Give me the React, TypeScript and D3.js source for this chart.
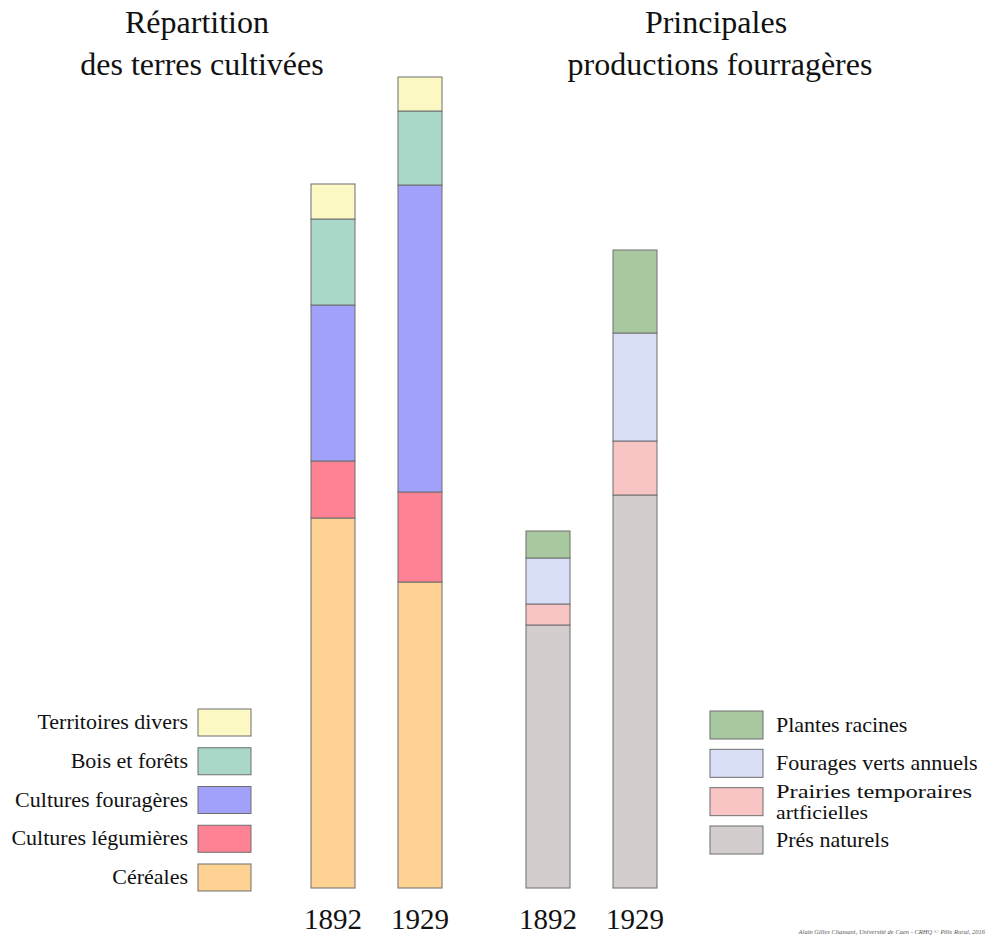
import React from "react";
import * as d3 from "d3";

const years = ["1892", "1929"];

// Left: Répartition des terres cultivées (bottom -> top)
const landCategories = ["Céréales", "Cultures légumières", "Cultures fouragères", "Bois et forêts", "Territoires divers"];
const landColors = ["#fdd292", "#fd8293", "#a1a1fc", "#a9d8c8", "#fcf8c4"];
const land1892 = [370, 57, 156, 86, 35];
const land1929 = [306, 90, 307, 74, 34];

// Right: Principales productions fourragères (bottom -> top)
const fodderCategories = ["Prés naturels", "Prairies temporaires artficielles", "Fourages verts annuels", "Plantes racines"];
const fodderColors = ["#d3cdcd", "#f9c4c4", "#d8dff7", "#a8c9a0"];
const fodder1892 = [263, 21, 46, 27];
const fodder1929 = [393, 54, 108, 83];

const W = 986;
const H = 936;
const FONT = "'Liberation Serif', 'DejaVu Serif', serif";

function stackBars(values: number[][], colors: string[], x: d3.ScaleBand<string>, y: d3.ScaleLinear<number, number>) {
  const rows = years.map((yr, i) => {
    const o: any = { year: yr };
    values[i].forEach((v, k) => (o["k" + k] = v));
    return o;
  });
  const keys = colors.map((_, k) => "k" + k);
  const series = d3.stack().keys(keys)(rows);
  const out: React.ReactNode[] = [];
  series.forEach((s, k) => {
    s.forEach((d, i) => {
      out.push(
        <rect
          key={k + "-" + i}
          x={x(years[i])}
          y={y(d[1])}
          width={x.bandwidth()}
          height={y(d[0]) - y(d[1])}
          fill={colors[k]}
          stroke="#6e6e6e"
          strokeWidth={1}
        />
      );
    });
  });
  return out;
}

export default function App() {
  const y = d3.scaleLinear().domain([0, 1000]).range([888, -112]);
  const bandL = d3.scaleBand<string>().domain(years).range([311, 442]).paddingInner(43 / 87).paddingOuter(0);
  const bandR = d3.scaleBand<string>().domain(years).range([526, 657]).paddingInner(43 / 87).paddingOuter(0);

  const boxW = 53;
  const boxH = 27;
  const leftLegendY = d3.scalePoint<string>().domain([...landCategories].reverse()).range([709, 864]);
  const rightLegendY = d3.scalePoint<string>().domain([...fodderCategories].reverse()).range([711, 826]);

  return (
    <svg width={W} height={H} style={{ position: "absolute", left: 0, top: 0, background: "#fff" }} fontFamily={FONT}>
      <rect x={0} y={0} width={W} height={H} fill="#fff" />
      {/* Titles */}
      <text x={197} y={33} fontSize={32} textAnchor="middle" fill="#111">Répartition</text>
      <text x={202} y={75} fontSize={32} textAnchor="middle" fill="#111">des terres cultivées</text>
      <text x={716} y={33} fontSize={32} textAnchor="middle" fill="#111">Principales</text>
      <text x={720} y={75} fontSize={32} textAnchor="middle" fill="#111">productions fourragères</text>

      {stackBars([land1892, land1929], landColors, bandL, y)}
      {stackBars([fodder1892, fodder1929], fodderColors, bandR, y)}

      {/* Year labels */}
      {years.map((yr) => (
        <text key={"l" + yr} x={(bandL(yr) as number) + bandL.bandwidth() / 2} y={929} fontSize={29} textAnchor="middle" fill="#111">{yr}</text>
      ))}
      {years.map((yr) => (
        <text key={"r" + yr} x={(bandR(yr) as number) + bandR.bandwidth() / 2} y={929} fontSize={29} textAnchor="middle" fill="#111">{yr}</text>
      ))}

      {/* Left legend */}
      {landCategories.map((c, i) => {
        const yy = leftLegendY(c) as number;
        return (
          <g key={c}>
            <rect x={198} y={yy} width={boxW} height={boxH} fill={landColors[i]} stroke="#6e6e6e" strokeWidth={1} />
            <text x={188} y={yy + 20} fontSize={22} textAnchor="end" fill="#111">{c}</text>
          </g>
        );
      })}

      {/* Right legend */}
      {fodderCategories.map((c, i) => {
        const yy = rightLegendY(c) as number;
        const isTwo = c.startsWith("Prairies");
        return (
          <g key={c}>
            <rect x={710} y={yy} width={boxW} height={boxH + 1} fill={fodderColors[i]} stroke="#6e6e6e" strokeWidth={1} />
            {isTwo ? (
              <>
                <text x={776} y={yy + 10} fontSize={19} fill="#111" textLength={196} lengthAdjust="spacingAndGlyphs">Prairies temporaires</text>
                <text x={776} y={yy + 31} fontSize={19} fill="#111" textLength={92} lengthAdjust="spacingAndGlyphs">artficielles</text>
              </>
            ) : (
              <text x={776} y={yy + 21} fontSize={22} fill="#111">{c}</text>
            )}
          </g>
        );
      })}

      <text x={985} y={934} fontSize={6.5} fontStyle="italic" textAnchor="end" fill="#555">
        Alain Gilles Chassant, Université de Caen - CRHQ © Pôle Rural, 2016
      </text>
    </svg>
  );
}
